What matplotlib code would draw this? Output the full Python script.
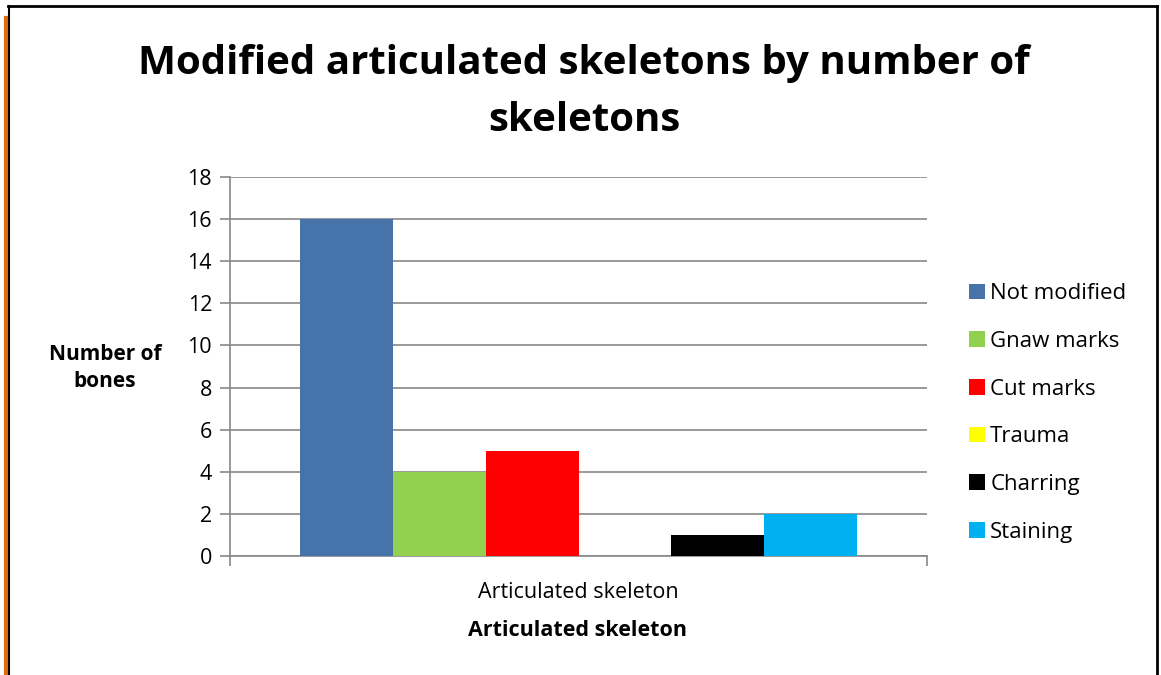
import matplotlib.pyplot as plt
import numpy as np
from matplotlib.lines import Line2D

# === DATA ===
categories = ["Articulated skeleton"]
series_names = ["Not modified", "Gnaw marks", "Cut marks", "Trauma", "Charring", "Staining"]
series_values = [16, 4, 5, 0, 1, 2]
series_colors = ["#4674AA", "#92D050", "#FF0000", "#FFFF00", "#000000", "#00B0F0"]

plt.rcParams['font.family'] = ['Open Sans', 'DejaVu Sans']

fig = plt.figure(figsize=(11.61, 6.75), dpi=100)
ax = fig.add_axes([230 / 1161, 1 - 556 / 675, 697 / 1161, 379 / 675])

n = len(series_names)
width = 0.8 / n
x = np.arange(len(categories))
for i, (name, val, col) in enumerate(zip(series_names, series_values, series_colors)):
    ax.bar(x - 0.4 + width * (i + 0.5), [val], width, color=col, label=name, zorder=3)

ax.set_xlim(-0.5, 0.5)
ax.set_ylim(0, 18)
ax.set_yticks(range(0, 19, 2))
ax.set_xticks([-0.5, 0.5])
ax.set_xticklabels(["", ""])
ax.text(0, -0.095, categories[0], transform=ax.get_xaxis_transform(),
        ha="center", va="center", fontsize=15.5)
ax.yaxis.grid(True, color="#888888", linewidth=1.2, zorder=0)
for s in ["top", "right"]:
    ax.spines[s].set_visible(False)
for s in ["left", "bottom"]:
    ax.spines[s].set_color("#888888")
    ax.spines[s].set_linewidth(1.2)
ax.tick_params(axis="both", colors="#888888", length=7, width=1.2, labelcolor="black", labelsize=15.5)
ax.tick_params(axis="y", pad=6)

fig.text(105 / 1161, 1 - 368 / 675, "Number of\nbones", ha="center", va="center",
         fontsize=15, fontweight="bold", linespacing=1.4)
fig.text(578 / 1161, 1 - 631 / 675, "Articulated skeleton", ha="center", va="center",
         fontsize=15.5, fontweight="bold")
fig.text(584 / 1161, 1 - 92 / 675, "Modified articulated skeletons by number of\nskeletons",
         ha="center", va="center", fontsize=29, fontweight="bold", linespacing=1.62)

ax.legend(loc="center left", bbox_to_anchor=(958 / 1161, 1 - 413 / 675),
          bbox_transform=fig.transFigure, frameon=False, fontsize=16,
          handlelength=0.7, handleheight=0.7, handletextpad=0.25, labelspacing=1.2,
          borderpad=0)

# frame around the chart
fig.add_artist(Line2D([6 / 1161, 6 / 1161], [0, 1 - 18 / 675], color="#E36C09", linewidth=3))
fig.add_artist(Line2D([8.5 / 1161, 8.5 / 1161], [0, 1 - 6 / 675], color="black", linewidth=1.5))
fig.add_artist(Line2D([8 / 1161, 1157 / 1161], [1 - 6 / 675, 1 - 6 / 675], color="black", linewidth=2))
fig.add_artist(Line2D([1157 / 1161, 1157 / 1161], [0, 1 - 6 / 675], color="black", linewidth=2))

plt.savefig("out.png", dpi=100)
